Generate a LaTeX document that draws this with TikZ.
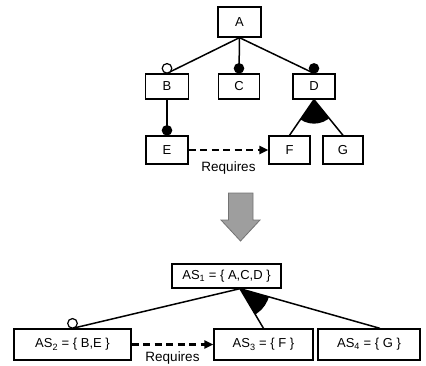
\documentclass[tikz,border=0pt]{standalone}
\usepackage{fontspec}
\setmainfont{Liberation Sans}
\usetikzlibrary{calc,arrows.meta}

\tikzset{
  fbox/.style={draw=black, line width=1.3pt, fill=white, inner sep=0pt,
               font=\fontsize{13}{15}\selectfont},
  link/.style={draw=black, line width=1.5pt},
  reqarrow/.style={draw=black, line width=2.2pt, dash pattern=on 7pt off 4.5pt,
                   -{Triangle[length=9pt,width=8pt]}},
  reqlabel/.style={inner sep=0pt, font=\fontsize{13.5}{15}\selectfont},
  mandatory/.style={fill=black},
  optional/.style={draw=black, line width=1.2pt, fill=white},
  groupfill/.style={fill=black},
  stagearrow/.style={fill=black!38, draw=black!55, line width=0.8pt}
}

\begin{document}
\begin{tikzpicture}[x=1pt, y=-1pt]
  \useasboundingbox (0,0) rectangle (426,365);

  % ---- feature model ----
  \node[fbox, minimum width=43pt, minimum height=30pt] (A) at (239.5,22) {A};
  \node[fbox, minimum width=43pt, minimum height=25pt] (B) at (167,86.5) {B};
  \node[fbox, minimum width=41pt, minimum height=25pt] (C) at (239,86.5) {C};
  \node[fbox, minimum width=42pt, minimum height=25pt] (D) at (314,86.5) {D};
  \node[fbox, minimum width=42pt, minimum height=28pt] (E) at (167,150) {E};
  \node[fbox, minimum width=41pt, minimum height=28pt] (F) at (289.5,150) {F};
  \node[fbox, minimum width=40pt, minimum height=28pt] (G) at (343,150) {G};

  % alternative group under D
  \begin{scope}
    \clip (D.south) -- (F.north) -- (G.north) -- cycle;
    \fill[groupfill] (D.south) circle[radius=24pt];
  \end{scope}
  \draw[link] (D.south) -- (F.north);
  \draw[link] (D.south) -- (G.north);

  \draw[link] (A.south) -- (B.north);
  \draw[link] (A.south) -- (C.north);
  \draw[link] (A.south) -- (D.north);
  \draw[link] (B.south) -- (E.north);

  \draw[optional] ($(B.north)+(0,-5)$) circle[radius=4.8pt];
  \fill[mandatory] ($(C.north)+(0,-5)$) circle[radius=5.3pt];
  \fill[mandatory] ($(D.north)+(0,-5)$) circle[radius=5.3pt];
  \fill[mandatory] ($(E.north)+(0,-5)$) circle[radius=5.3pt];

  \draw[reqarrow] (E.east) -- (F.west)
    node[midway, below=11pt, reqlabel] {Requires};

  % ---- transformation step ----
  \draw[stagearrow] (228.5,193) -- (253,193) -- (253,220) -- (260,220)
    -- (240.5,241) -- (221,220) -- (228.5,220) -- cycle;

  % ---- atomic sets ----
  \node[fbox, minimum width=109pt, minimum height=24pt] (AS1) at (226.5,276)
    {AS\textsubscript{1} = \{ A,C,D \}};
  \node[fbox, minimum width=117pt, minimum height=31pt] (AS2) at (72.5,344.5)
    {AS\textsubscript{2} = \{ B,E \}};
  \node[fbox, minimum width=99pt, minimum height=31pt] (AS3) at (263.5,344.5)
    {AS\textsubscript{3} = \{ F \}};
  \node[fbox, minimum width=102pt, minimum height=31pt] (AS4) at (369,344.5)
    {AS\textsubscript{4} = \{ G \}};

  \coordinate (apex) at ($(AS1.south)+(13.5,0)$);
  \coordinate (as4top) at ($(AS4.north)+(11,0)$);

  \begin{scope}
    \clip (apex) -- (AS3.north) -- (as4top) -- cycle;
    \fill[groupfill] (apex) circle[radius=30pt];
  \end{scope}
  \draw[link] (apex) -- (AS2.north);
  \draw[link] (apex) -- (AS3.north);
  \draw[link] (apex) -- (as4top);
  \draw[optional] ($(AS2.north)+(0,-5)$) circle[radius=4.8pt];

  \draw[reqarrow] (AS2.east) -- (AS3.west)
    node[midway, below=6pt, reqlabel] {Requires};
\end{tikzpicture}
\end{document}
